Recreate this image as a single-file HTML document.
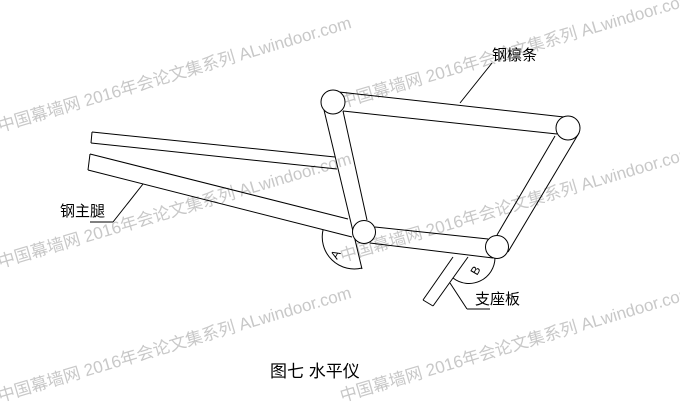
<!DOCTYPE html>
<html><head><meta charset="utf-8"><style>
html,body{margin:0;padding:0;background:#fff;width:680px;height:406px;overflow:hidden}
svg{display:block}
.wm{font-family:"Liberation Sans","Noto Sans CJK SC",sans-serif;font-size:17px;fill:#c8c8c8}
.lb{font-family:"Liberation Sans","Noto Sans CJK SC",sans-serif;font-size:15px;fill:#000}
</style></head><body>
<svg width="680" height="406" viewBox="0 0 680 406" xmlns="http://www.w3.org/2000/svg">
<g class="wm">
<text x="0" y="132" transform="rotate(-16.5 0 132)">中国幕墙网 2016年会论文集系列 ALwindoor.com</text>
<text x="342" y="108" transform="rotate(-16.5 342 108)">中国幕墙网 2016年会论文集系列 ALwindoor.com</text>
<text x="0" y="268" transform="rotate(-16.5 0 268)">中国幕墙网 2016年会论文集系列 ALwindoor.com</text>
<text x="342" y="262" transform="rotate(-16.5 342 262)">中国幕墙网 2016年会论文集系列 ALwindoor.com</text>
<text x="0" y="402" transform="rotate(-16.5 0 402)">中国幕墙网 2016年会论文集系列 ALwindoor.com</text>
<text x="342" y="402" transform="rotate(-16.5 342 402)">中国幕墙网 2016年会论文集系列 ALwindoor.com</text>
</g>
<g stroke="#000" stroke-width="1" fill="none">
<!-- purlin top -->
<line x1="339" y1="92" x2="564" y2="117"/>
<line x1="343" y1="111" x2="557" y2="134"/>
<!-- left vertical -->
<line x1="324" y1="110" x2="362" y2="269"/>
<line x1="343" y1="111" x2="367" y2="220"/>
<!-- right bar -->
<line x1="555" y1="136" x2="497" y2="235"/>
<line x1="579" y1="133" x2="508" y2="252"/>
<!-- bottom bar -->
<line x1="375" y1="227" x2="488" y2="239"/>
<line x1="370" y1="243" x2="493" y2="258"/>
<!-- legs -->
<line x1="92" y1="132" x2="335" y2="157"/>
<line x1="91" y1="143" x2="337" y2="169"/>
<line x1="92" y1="132" x2="91" y2="143"/>
<line x1="90" y1="154" x2="348" y2="219"/>
<line x1="88" y1="170" x2="352" y2="237"/>
<line x1="90" y1="154" x2="88" y2="170"/>
<!-- support plate -->
<line x1="453" y1="257" x2="423" y2="300"/>
<line x1="468" y1="257" x2="433" y2="306"/>
<line x1="423" y1="300" x2="433" y2="306"/>
<!-- arcs -->
<path d="M323 230 A32 32 0 0 0 362 268"/>
<path d="M453 278 A26 26 0 0 0 495 258"/>
<!-- circles -->
<circle cx="333" cy="102" r="12" fill="#fff"/>
<circle cx="568" cy="128" r="12" fill="#fff"/>
<circle cx="364" cy="232" r="11.5" fill="#fff"/>
<circle cx="497" cy="247" r="11.5" fill="#fff"/>
<!-- leaders -->
<line x1="460" y1="103" x2="492" y2="63"/>
<line x1="143" y1="184" x2="113" y2="222"/>
<line x1="90" y1="222" x2="113" y2="222"/>
<line x1="450" y1="283" x2="467" y2="309"/>
<line x1="467" y1="309" x2="490" y2="309"/>
</g>
<text class="lb" x="492" y="60">钢檩条</text>
<text class="lb" x="60" y="216">钢主腿</text>
<text class="lb" x="475" y="304">支座板</text>
<text x="337" y="260" font-family="Liberation Sans,sans-serif" font-size="12" transform="rotate(-60 337 260)">A</text>
<text x="477" y="276" font-family="Liberation Sans,sans-serif" font-size="12" transform="rotate(-60 477 276)">B</text>
<text x="270" y="377" font-family="Liberation Sans,'Noto Sans CJK SC',sans-serif" font-size="17">图七 水平仪</text>
</svg>
</body></html>
